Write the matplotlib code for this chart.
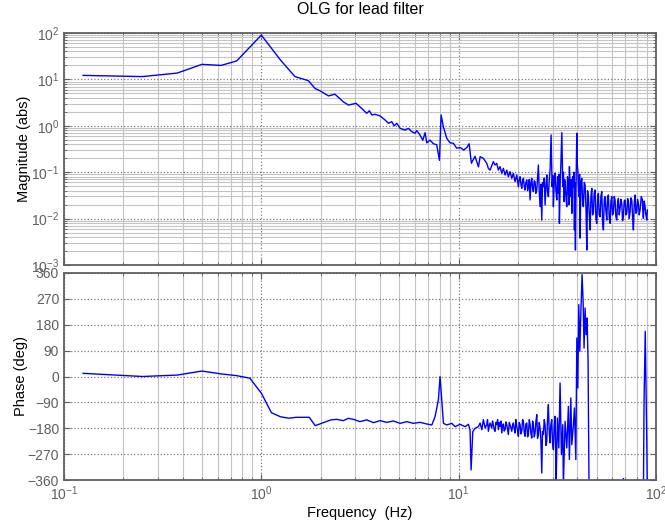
import numpy as np
import matplotlib
matplotlib.use("Agg")
import matplotlib.pyplot as plt
from matplotlib.ticker import LogLocator, FixedLocator, NullFormatter

plt.rcParams['font.family'] = ['Liberation Sans', 'DejaVu Sans']

# ── magnitude trace (Hz, abs) ────────────────────────────────────────────────
mag_freq = [0.125, 0.25, 0.375, 0.5, 0.625, 0.75, 1.0, 1.25, 1.48, 1.73, 1.87, 1.98,
            2.19, 2.36, 2.6, 2.76, 3.02, 3.29, 3.42, 3.53, 3.63, 3.77, 4.0, 4.24,
            4.41, 4.58, 4.71, 4.86, 5.05, 5.35, 5.56, 5.78, 6.01, 6.13, 6.37, 6.58,
            6.76, 6.89, 7.16, 7.45, 7.74, 7.99, 8.15, 8.36, 8.70, 9.04, 9.40, 9.77,
            10.2, 10.6, 11.0, 11.3, 11.6, 12.1, 12.6,
            12.84, 13.34, 13.88, 14.14, 14.42, 14.99, 15.29, 15.60, 15.89, 16.21,
            16.53, 16.85, 17.19, 17.53, 17.86, 18.22, 18.58, 18.93, 19.31, 19.70,
            20.07, 20.27, 20.47, 20.68, 20.88, 21.08, 21.28, 21.5, 21.70, 21.9,
            22.14, 22.35, 22.55, 22.8, 23.01, 23.25, 23.47, 23.7, 23.91, 24.15,
            24.39, 24.6, 24.88, 25.1, 25.35, 25.6, 25.85, 26.1, 26.37, 26.6,
            26.87, 27.15, 27.41, 27.7, 27.96, 28.2, 28.48, 28.8, 29.06, 29.40,
            29.75, 30.0, 30.20, 30.5, 30.81, 31.1, 31.43, 31.7, 32.02, 32.2,
            32.40, 32.7, 32.93, 33.32, 33.70, 33.95, 34.22, 34.4, 34.62, 34.95,
            35.31, 35.6, 35.98, 36.2, 36.41, 36.7, 37.01, 37.2, 37.44, 37.8,
            38.15, 38.4, 38.60, 38.8, 39.06, 39.4, 39.70, 39.9, 40.16, 40.5,
            40.78, 41.0, 41.26, 41.6, 42.08, 42.5, 42.86, 43.3, 43.72, 44.2,
            44.60, 45.0, 45.44, 45.9, 46.35, 46.8, 47.28, 47.7, 48.17, 48.6,
            49.13, 49.6, 50.12, 50.6, 51.06, 51.5, 52.08, 52.6, 53.12, 53.6,
            54.13, 54.7, 55.21, 55.7, 56.32, 56.8, 57.38, 57.9, 58.54, 59.1,
            59.70, 60.2, 60.83, 61.4, 62.04, 62.6, 63.28, 63.9, 64.48, 65.1,
            65.77, 66.4, 67.08, 67.7, 68.35, 69.0, 69.73, 70.4, 71.12, 71.8,
            72.46, 73.2, 73.91, 74.6, 75.39, 76.1, 76.81, 77.6, 78.34, 79.1,
            79.91, 80.6, 81.42, 82.2, 83.05, 84.2, 85.32, 85.8, 86.31, 87.2,
            88.05, 88.9, 89.81, 90.43]
mag_vals = [12.2, 11.5, 13.7, 21.1, 20.0, 25.0, 90.0, 26.2, 11.5, 9.4, 6.4, 5.7,
            4.4, 4.8, 3.3, 2.8, 3.05, 2.19, 1.86, 2.11, 1.71, 1.77, 1.63, 1.33,
            1.13, 1.23, 1.0, 1.13, 0.88, 0.81, 0.88, 0.75, 0.69, 0.79, 0.63, 0.49,
            0.71, 0.43, 0.49, 0.41, 0.39, 0.18, 1.71, 0.96, 0.54, 0.43, 0.42, 0.33,
            0.34, 0.30, 0.34, 0.41, 0.156, 0.22, 0.13,
            0.216, 0.199, 0.155, 0.121, 0.111, 0.169, 0.143, 0.155, 0.111, 0.132,
            0.0946, 0.121, 0.0871, 0.111, 0.080, 0.103, 0.0738, 0.0946, 0.0625, 0.0871,
            0.0488, 0.070, 0.080, 0.055, 0.0449, 0.065, 0.0738, 0.050, 0.0413, 0.060,
            0.068, 0.040, 0.0488, 0.070, 0.0252, 0.060, 0.0738, 0.045, 0.038, 0.065,
            0.0625, 0.035, 0.0413, 0.075, 0.143, 0.040, 0.0181, 0.055, 0.0093, 0.060,
            0.0488, 0.075, 0.0196, 0.050, 0.0871, 0.040, 0.0297, 0.070, 0.111, 0.634,
            0.0488, 0.085, 0.0181, 0.060, 0.0946, 0.040, 0.0252, 0.080, 0.035, 0.090,
            0.0079, 0.060, 0.132, 0.711, 0.0488, 0.100, 0.0232, 0.070, 0.0625, 0.030,
            0.0181, 0.080, 0.0488, 0.020, 0.132, 0.060, 0.0297, 0.070, 0.013, 0.080,
            0.0488, 0.100, 0.0057, 0.060, 0.0021, 0.090, 0.689, 0.150, 0.111, 0.040,
            0.0297, 0.090, 0.0038, 0.060, 0.0738, 0.020, 0.0181, 0.060, 0.053, 0.015,
            0.0021, 0.040, 0.0297, 0.012, 0.0057, 0.030, 0.0449, 0.012, 0.013, 0.035,
            0.0413, 0.010, 0.0079, 0.028, 0.035, 0.012, 0.011, 0.031, 0.038, 0.009,
            0.0057, 0.026, 0.0297, 0.015, 0.0093, 0.028, 0.0323, 0.011, 0.0079, 0.024,
            0.0297, 0.012, 0.013, 0.030, 0.0252, 0.011, 0.0093, 0.022, 0.0273, 0.012,
            0.0166, 0.026, 0.0213, 0.009, 0.011, 0.024, 0.0252, 0.012, 0.013, 0.027,
            0.0232, 0.010, 0.0141, 0.028, 0.0252, 0.011, 0.0057, 0.022, 0.0323, 0.013,
            0.0141, 0.026, 0.0213, 0.012, 0.0153, 0.030, 0.0252, 0.014, 0.0101, 0.024,
            0.0181, 0.012, 0.0093, 0.0153]

# ── phase trace (Hz, deg) ── values below -360 run off the axes, as in the original
ph_freq = [0.125, 0.25, 0.375, 0.5, 0.625, 0.75, 0.875, 1.0, 1.125, 1.25, 1.375, 1.5,
           1.75, 1.875, 2.125, 2.25, 2.41, 2.60, 2.76, 2.93, 3.16, 3.42, 3.70, 4.00,
           4.32, 4.67, 5.05, 5.46, 5.89, 6.37, 6.89, 7.31, 7.59, 7.89, 8.05, 8.21,
           8.37, 8.70, 9.23, 9.59, 10.16, 10.78, 11.20, 11.42, 11.56, 11.79, 12.11, 12.59,
           12.84, 13.1, 13.34, 13.61, 13.88, 14.0, 14.14, 14.3, 14.42, 14.70, 14.85,
           14.99, 15.15, 15.29, 15.45, 15.60, 15.75, 15.89, 16.05, 16.21, 16.37, 16.53,
           16.7, 16.85, 17.0, 17.19, 17.35, 17.53, 17.7, 17.86, 18.05, 18.22, 18.4,
           18.58, 18.75, 18.93, 19.1, 19.31, 19.5, 19.70, 19.9, 20.07, 20.27, 20.47,
           20.68, 20.88, 21.08, 21.28, 21.5, 21.70, 21.9, 22.14, 22.35, 22.55, 22.8,
           23.01, 23.25, 23.47, 23.7, 23.91, 24.15, 24.39, 24.6, 24.88, 25.1, 25.35,
           25.6, 25.85, 26.1, 26.37, 26.6, 26.87, 27.15, 27.41, 27.7, 27.96, 28.2,
           28.48, 28.8, 29.06, 29.3, 29.63, 29.9, 30.20, 30.5, 30.81, 31.0, 31.17,
           31.65, 32.17, 32.65, 33.16, 33.70, 33.93, 34.62, 35.31, 35.98,
           36.41, 37.01, 37.44, 38.15, 38.60, 39.24, 39.70, 40.16, 40.62, 41.10, 41.57,
           42.21, 42.70, 43.20, 43.72, 44.23, 44.75, 45.27, 45.80,
           50.0, 60.0, 66.5, 68.35, 69.5, 75.0, 86.31, 87.0, 87.6, 88.2, 88.8, 89.8, 90.4]
ph_vals = [11, 0, 5, 19, 9, 3, -6, -58, -126, -140, -145, -142,
           -142, -171, -157, -151, -149, -153.6, -145.5, -149, -157, -151, -160.5, -153.6,
           -159.4, -154.8, -162.9, -157, -162.9, -159.4, -165.2, -168.6, -139.7, -81.7, -0.6, -81.7,
           -162.9, -168.6, -162.9, -174.5, -166.3, -174.5, -166.3, -186, -325, -191.8, -180.2, -174.5,
           -161.7, -185, -150, -179, -167.5, -150, -190.7, -170, -161.7, -179, -155,
           -167.5, -185, -190.7, -160, -167.5, -150, -184.9, -160, -173.3, -155, -196.5,
           -170, -165.1, -190, -184.9, -158, -167.5, -185, -202, -160, -167.5, -180,
           -190.7, -170, -161.7, -180, -196.5, -150, -173.3, -190, -208, -160, -167.5,
           -200, -190.7, -150, -155.9, -195, -208, -165, -161.7, -210, -202, -150,
           -167.5, -200, -214, -155, -167.5, -210, -196.5, -160, -132.7, -215, -202,
           -160, -179, -220, -335.6, -190, -202, -150, -167.5, -240, -225.4, -150,
           -97.9, -200, -231.2, -170, -150, -230, -254.4, -170, -138.5, -250, -380,
           -144.3, -248.6, -22.6, -271.8, -167.5, -380, -155.9, -248.6, -103.7,
           -289.2, -74.7, -237, -167.5, -109.5, -289.2, 134, -40, 250, 87.6, 215,
           354.2, 267.3, 99.2, 238.3, 145.5, 203.5, 52.8, -420,
           -450, -430, -400, -355, -400, -440, -420, -86.3, 29.6, 157.1, 6.4, -225, -420]

LINE = "#0000ff"
TICK_C = "#5f5f5f"


def style_axes(ax):
    ax.set_xscale("log")
    ax.set_xlim(0.1, 100)
    ax.set_axisbelow(True)
    ax.grid(True, which="minor", axis="both", color="#c4c4c4", ls="-", lw=0.8)
    ax.grid(True, which="major", axis="both", color="#7a7a7a", ls=":", lw=0.9)
    ax.tick_params(which="both", direction="in", top=True, right=True,
                   colors=TICK_C, labelsize=10)
    ax.tick_params(which="major", length=4)
    ax.tick_params(which="minor", length=2)
    for sp in ax.spines.values():
        sp.set_color("#606060")
        sp.set_linewidth(1.3)


fig = plt.figure(figsize=(6.65, 5.23), dpi=100)
ax1 = fig.add_axes([64 / 665, 1 - 265 / 523, 592 / 665, 232 / 523])
ax2 = fig.add_axes([64 / 665, 1 - 480 / 523, 592 / 665, 207 / 523])

# magnitude
ax1.plot(mag_freq, mag_vals, color=LINE, lw=1.0)
style_axes(ax1)
ax1.set_yscale("log")
ax1.set_ylim(1e-3, 1e2)
ax1.yaxis.set_major_locator(LogLocator(base=10, numticks=10))
ax1.yaxis.set_minor_locator(LogLocator(base=10, subs=np.arange(2, 10), numticks=10))
ax1.yaxis.set_minor_formatter(NullFormatter())
ax1.xaxis.set_major_formatter(NullFormatter())
ax1.xaxis.set_minor_formatter(NullFormatter())
ax1.set_ylabel("Magnitude (abs)", fontsize=10.5, labelpad=0)
ax1.set_title("OLG for lead filter", fontsize=11.5, pad=14)

# phase
ax2.plot(ph_freq, ph_vals, color=LINE, lw=1.0)
style_axes(ax2)
ax2.set_ylim(-360, 360)
ax2.yaxis.set_major_locator(FixedLocator(np.arange(-360, 361, 90)))
ax2.xaxis.set_minor_formatter(NullFormatter())
ax2.set_ylabel("Phase (deg)", fontsize=10.5, labelpad=0)
ax2.set_xlabel("Frequency  (Hz)", fontsize=10.5, labelpad=2)

fig.savefig("out.png", dpi=100)
